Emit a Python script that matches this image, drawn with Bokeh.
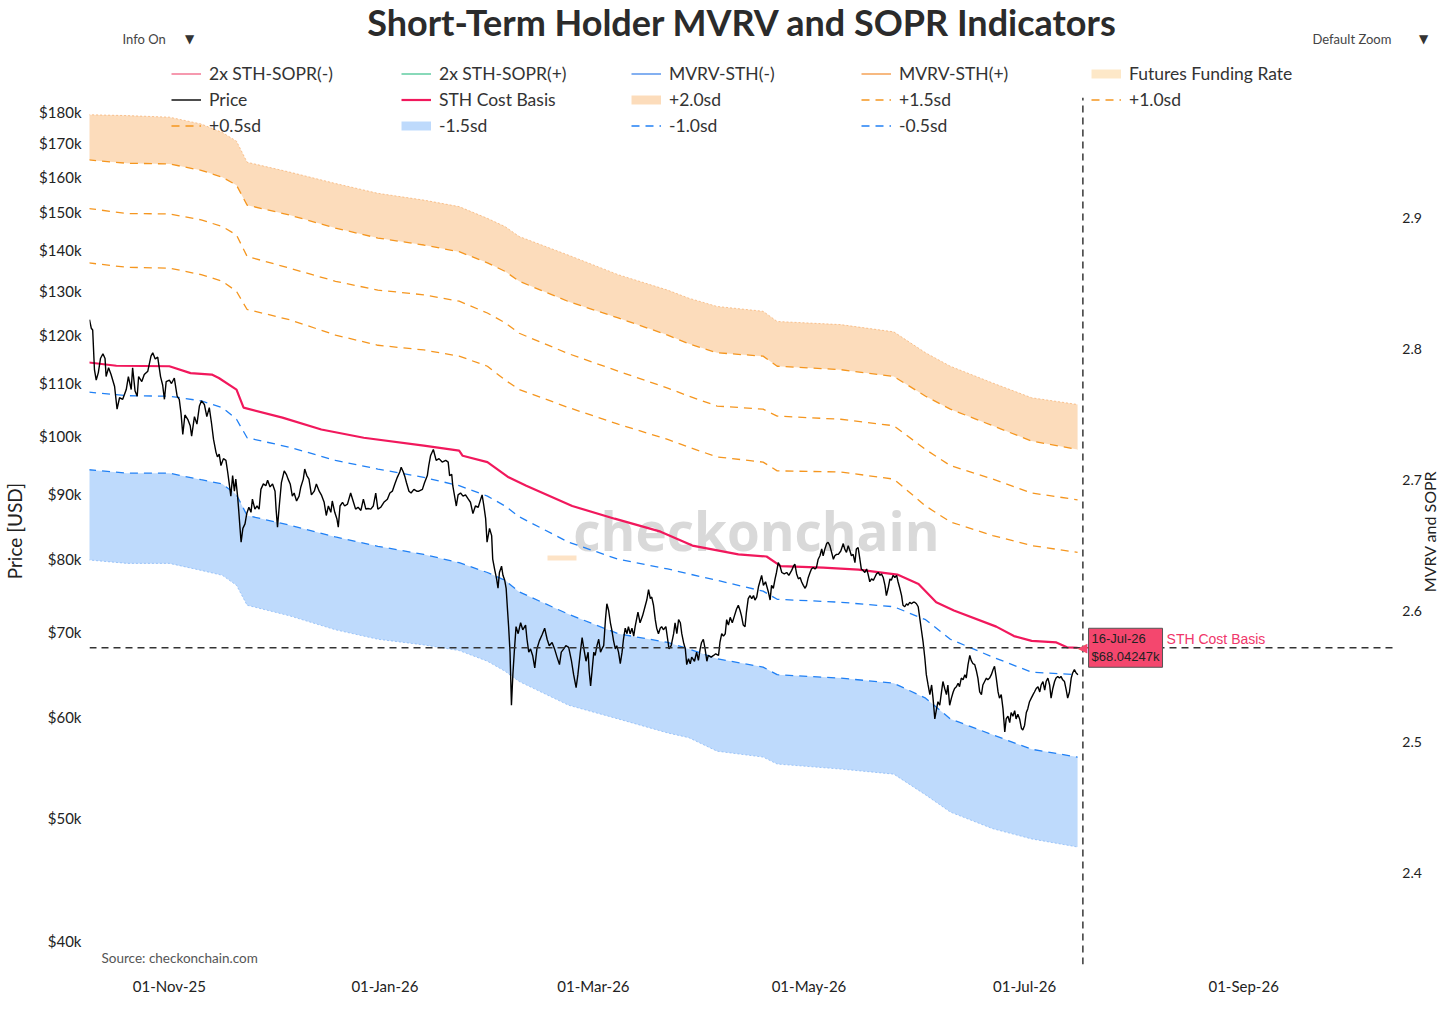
import math
import numpy as np
import pandas as pd
from bokeh.plotting import figure
from bokeh.models import (Range1d, LinearAxis, LinearScale, FixedTicker, Label, Legend,
                          LegendItem, BoxAnnotation)
from bokeh.embed import file_html
from bokeh.resources import INLINE

# ---------------- data ----------------
BASE = "2025-11-01"   # price_day offsets are days from this date

price_day = [
    -22.6,-22.1,-21.7,-21.2,-20.7,-20.1,-19.5,-18.8,-18.2,-17.9,-17.2,-16.5,-15.5,-14.8,-14.1,-13.2,-12.2,-11.6,-10.8,-10.4,
    -9.7,-9.1,-8.7,-7.8,-7.1,-6.1,-5.2,-4.7,-4.0,-3.3,-2.5,-1.9,-1.4,-0.9,0.0,0.6,1.4,2.2,2.8,3.3,
    3.8,4.4,5.2,5.9,6.3,7.1,7.8,8.5,9.1,9.9,10.6,11.3,11.9,12.5,13.2,13.6,14.1,14.6,15.3,16.0,
    16.5,16.9,17.4,17.9,18.4,18.8,19.3,19.6,20.0,20.3,20.8,21.4,21.9,22.5,23.1,23.5,24.2,24.8,25.4,25.9,
    26.6,27.3,27.8,28.5,29.2,29.9,30.2,30.6,31.1,31.7,32.5,33.1,33.6,34.2,34.8,35.3,36.0,36.7,37.2,37.9,
    38.3,38.9,39.5,40.2,41.0,41.6,42.4,43.0,43.8,44.4,45.0,45.7,46.1,46.8,47.4,47.8,48.3,49.0,49.6,50.4,
    51.3,52.1,52.7,53.4,54.2,54.9,55.6,56.2,57.0,57.7,58.4,59.0,59.8,60.7,61.7,62.4,63.1,63.8,64.5,65.2,
    65.6,66.2,66.7,67.1,67.8,68.4,69.2,70.0,70.6,71.6,72.2,73.0,73.4,73.9,74.7,
    75.5,76.3,77.2,78.2,78.9,79.3,79.9,80.2,80.8,81.2,81.7,82.4,83.1,83.8,84.6,85.2,85.9,86.6,87.4,88.1,
    88.5,89.0,89.5,89.9,90.6,91.2,91.5,92.1,92.6,93.0,93.4,94.0,94.4,94.9,95.3,95.7,96.0,96.4,96.8,97.2,
    97.6,98.1,98.7,99.4,100.0,100.8,101.2,101.7,102.2,102.8,103.4,104.0,104.7,105.5,106.2,106.9,107.5,108.3,109.0,109.7,
    110.4,110.9,111.6,112.2,113.0,113.8,114.4,115.1,115.6,116.3,116.8,117.3,117.9,118.5,118.8,119.2,119.6,120.1,120.5,121.0,
    121.5,122.0,122.4,122.9,123.4,123.8,124.3,124.8,125.2,125.7,126.2,126.6,127.1,127.6,128.1,128.5,129.0,129.5,129.9,130.4,
    130.9,131.4,131.8,132.6,133.2,133.9,134.7,135.1,135.6,136.1,136.5,137.0,137.5,137.9,138.4,138.9,139.3,139.8,140.5,141.0,
    141.4,142.0,142.7,143.1,143.6,144.1,144.6,145.0,145.5,146.0,146.4,146.9,147.4,147.8,148.6,149.2,149.7,150.2,150.6,151.1,
    151.6,152.1,152.5,153.3,154.0,154.6,155.4,155.8,156.3,156.8,157.3,157.7,158.2,158.7,159.3,159.9,160.5,161.0,161.5,161.9,
    162.4,162.9,163.3,163.8,164.3,164.8,165.3,165.7,166.2,166.7,
    167.6,168.1,168.7,169.5,170.0,170.4,170.9,171.4,171.8,172.3,172.8,173.3,174.0,174.7,175.3,176.1,176.6,177.0,177.5,178.0,
    178.5,178.9,179.4,179.9,180.3,180.8,181.3,181.7,182.2,182.7,183.1,183.6,184.1,184.6,185.0,185.5,186.0,186.4,186.9,187.4,
    187.9,188.3,188.8,189.3,190.0,190.7,191.1,191.6,192.1,192.6,193.0,193.5,194.0,194.4,194.9,195.4,195.8,196.3,196.8,197.3,
    197.7,198.2,198.7,199.2,199.6,200.1,200.6,201.1,201.5,202.0,202.5,202.9,203.4,203.9,204.3,204.8,205.3,205.8,206.2,206.7,
    207.2,207.6,208.1,208.6,209.0,209.5,210.0,210.5,210.9,211.4,211.9,212.4,212.8,213.3,213.8,214.2,214.7,215.2,215.7,216.1,
    216.6,217.1,217.5,218.0,218.5,218.9,219.4,219.9,220.3,220.8,221.3,221.8,222.2,222.7,223.2,223.6,224.1,224.6,225.1,225.5,
    226.0,226.5,226.9,227.4,227.9,228.4,228.8,229.3,229.8,230.2,230.7,231.2,231.6,232.1,232.6,233.1,233.5,234.0,234.5,234.9,
    235.4,235.9,236.4,236.8,237.3,237.8,238.2,238.7,239.2,239.6,240.1,240.6,241.1,241.5,242.0,242.5,242.9,243.4,243.9,244.4,
    244.8,245.3,245.8,246.3,246.7,247.2,247.7,248.1,248.6,249.1,249.5,250.0,250.5,250.9,251.4,251.9,252.3,252.8,253.3,253.8,
    254.2,254.7,255.2,255.6,256.1,256.6,257.1,
]
price_k = [
    123.4,121.5,121.1,112.7,110.6,112.1,115.0,116.0,115.0,111.3,113.1,111.7,109.3,104.9,107.1,106.8,108.7,111.3,108.7,113.1,
    108.4,107.4,111.3,110.3,111.7,112.4,115.5,116.2,114.9,115.3,111.3,109.6,106.8,110.3,110.6,109.9,111.0,107.4,106.8,104.1,
    100.2,103.8,103.0,101.8,99.9,103.5,102.1,105.5,106.5,105.8,103.5,105.2,102.4,99.3,97.0,96.2,96.7,94.7,95.9,95.6,
    93.6,91.8,89.6,93.0,90.4,92.4,89.6,87.5,84.5,82.4,84.5,85.2,86.8,87.8,87.0,89.1,87.5,88.0,87.5,90.7,
    91.6,91.3,92.2,91.1,91.6,90.4,87.5,84.7,88.0,91.8,93.8,93.2,92.4,91.6,89.6,90.1,88.8,89.6,91.1,92.4,
    94.1,93.0,92.4,89.8,90.4,91.6,90.4,89.8,88.6,86.5,88.0,87.0,88.8,87.0,86.0,84.7,88.0,88.6,88.0,88.3,
    90.1,88.6,87.5,87.8,87.3,89.1,87.5,87.6,87.5,88.0,90.1,87.5,87.8,88.6,89.1,90.1,90.4,91.6,92.7,93.6,
    94.4,93.6,92.7,91.8,90.4,90.1,90.7,90.4,90.4,90.7,91.8,93.0,94.7,96.4,97.5,
    95.6,95.9,95.3,95.6,95.3,93.0,93.2,91.3,89.3,88.0,89.8,90.1,89.6,89.8,89.1,88.6,86.8,88.0,87.8,89.1,
    89.8,88.0,86.0,82.4,84.5,83.4,79.9,78.3,77.1,75.8,78.0,78.9,77.6,76.9,75.8,72.8,70.7,67.5,61.3,64.8,
    67.5,70.7,69.8,71.2,70.3,70.9,69.1,67.5,67.9,67.1,65.6,67.9,68.9,69.7,70.5,69.1,68.3,68.7,67.9,66.9,
    66.0,67.5,67.9,68.3,68.1,66.4,64.8,63.3,64.8,67.5,69.3,67.9,66.4,67.5,65.2,63.5,65.2,67.5,67.1,68.3,
    69.1,67.5,67.9,68.3,71.6,73.7,72.8,71.2,70.3,68.9,67.9,68.3,67.5,66.1,67.5,69.1,70.5,69.8,70.7,69.8,
    70.5,69.5,70.7,72.6,71.2,72.1,73.5,74.2,75.6,74.4,74.6,73.5,71.6,70.5,69.8,70.5,70.7,70.3,70.7,69.1,
    67.9,68.3,69.8,71.2,69.8,71.6,71.2,69.8,68.7,67.9,66.0,66.7,66.1,66.9,66.4,67.5,66.5,67.9,68.7,69.1,
    67.9,66.4,67.1,66.9,67.1,67.3,67.1,68.7,69.8,69.5,69.8,71.6,70.9,71.9,71.2,72.1,73.0,73.5,72.8,72.1,
    70.9,70.7,72.6,74.4,74.8,74.4,74.8,74.2,74.6,76.0,
    77.6,76.2,76.7,75.3,74.2,76.2,75.8,77.1,78.0,79.4,78.9,78.0,77.8,78.0,77.6,78.3,78.9,79.2,77.8,77.1,
    77.3,76.7,76.2,75.8,76.2,77.3,78.0,78.5,78.7,78.5,78.7,79.9,80.4,81.4,80.4,81.4,82.2,82.4,81.9,80.9,
    79.9,80.4,80.6,80.6,81.1,82.2,81.4,80.9,81.9,81.1,80.4,80.6,79.4,81.4,81.6,79.9,78.5,78.3,78.0,78.5,
    77.8,76.7,77.1,76.9,77.3,77.8,78.0,77.6,77.8,77.3,76.2,74.8,75.8,77.1,76.9,77.6,77.3,77.6,76.7,75.8,
    74.8,73.5,73.3,73.7,73.5,73.9,73.7,73.9,73.9,73.7,73.3,71.6,70.3,68.7,66.7,64.8,63.6,62.5,63.6,62.1,
    59.8,60.9,61.7,61.3,62.8,64.0,63.2,62.5,63.6,61.3,62.1,62.8,63.2,63.4,63.8,63.4,64.4,64.2,64.8,64.4,
    66.0,67.1,66.5,66.1,66.0,65.2,64.4,62.8,62.5,63.6,64.0,64.4,64.2,64.4,64.8,65.4,65.8,64.4,62.8,62.1,
    62.5,60.9,58.4,59.8,60.1,59.4,60.5,60.1,60.7,59.8,60.3,59.8,58.8,58.6,59.1,60.5,60.9,61.7,62.1,62.5,
    62.8,63.2,63.4,62.8,63.6,64.0,63.0,64.0,64.4,63.6,62.1,63.2,64.0,64.4,64.6,64.4,64.6,64.2,64.0,63.0,
    62.1,62.8,64.4,65.0,65.4,65.0,64.8,
]

cb_dates = ["2025-10-09","2025-10-17","2025-11-01","2025-11-07","2025-11-13","2025-11-15","2025-11-20","2025-11-22",
            "2025-12-03","2025-12-14","2025-12-26","2026-01-12","2026-01-22","2026-01-23","2026-01-30","2026-02-05",
            "2026-02-10","2026-02-23","2026-03-07","2026-03-20","2026-03-29","2026-04-11","2026-04-19","2026-04-23",
            "2026-05-05","2026-05-15","2026-05-26","2026-06-01","2026-06-06","2026-06-11","2026-06-23","2026-06-28",
            "2026-07-03","2026-07-10","2026-07-13","2026-07-16"]
cb_k = [114.2,113.5,113.4,112.0,111.7,111.0,108.7,105.2,103.3,101.1,99.6,98.2,97.3,96.4,95.3,92.7,91.3,88.0,86.0,84.0,
        81.9,80.6,80.3,78.9,78.7,78.4,77.7,76.4,73.9,72.8,70.7,69.5,68.9,68.7,68.1,68.04247]

band_dates = ["2025-10-09","2025-10-20","2025-11-01","2025-11-10","2025-11-16","2025-11-20","2025-11-23","2025-12-05",
              "2025-12-18","2025-12-30","2026-01-12","2026-01-22","2026-01-30","2026-02-04","2026-02-08","2026-02-22",
              "2026-03-08","2026-03-22","2026-03-28","2026-04-05","2026-04-18","2026-04-22","2026-05-10","2026-05-25",
              "2026-06-03","2026-06-10","2026-06-22","2026-07-03","2026-07-16"]
sd_p20 = [179.0,178.7,178.2,176.0,173.3,170.6,164.2,161.3,158.0,155.2,153.3,151.5,148.3,146.1,143.5,138.7,133.9,130.2,
          128.3,126.4,125.3,123.0,122.3,120.7,116.2,113.4,110.0,107.1,105.8]
sd_p15 = [164.9,163.9,163.7,161.8,159.8,157.5,151.9,149.2,145.7,143.1,141.3,139.6,136.8,134.7,132.3,127.5,123.8,120.0,
          118.1,116.2,115.5,113.4,112.7,111.3,107.4,104.9,101.8,99.0,97.5]
sd_p10 = [151.0,149.6,149.5,147.9,146.1,143.9,138.4,135.5,132.3,130.2,129.1,127.6,124.9,122.7,120.4,116.0,112.4,109.0,
          107.4,105.5,104.9,103.6,103.0,101.8,97.5,94.7,92.4,90.1,89.0]
sd_p05 = [136.8,135.7,135.5,133.9,132.3,129.9,125.7,123.4,120.0,117.8,116.8,115.5,113.4,110.6,108.7,105.2,102.1,99.3,
          97.9,96.2,95.3,93.8,93.6,92.4,88.0,85.5,83.4,81.9,80.9]
sd_m05 = [108.2,107.5,107.4,106.5,105.2,103.0,99.6,97.9,95.6,94.1,92.7,91.3,89.6,88.0,86.3,82.4,79.9,78.5,
          77.8,76.9,75.4,74.3,73.9,73.3,71.6,69.1,66.9,65.1,64.8]
sd_m10 = [94.0,93.4,93.4,92.3,91.6,89.8,86.5,85.0,83.2,81.8,80.6,79.4,78.0,76.9,75.3,72.3,69.8,68.7,
          67.9,66.7,65.7,64.8,64.4,63.8,62.1,59.8,58.1,56.6,55.8]
sd_m15 = [79.8,79.3,79.3,78.3,77.6,76.2,73.5,72.1,70.3,69.1,68.4,67.7,66.4,65.2,64.0,61.3,59.8,58.3,
          57.8,56.4,55.8,55.1,54.6,54.1,52.1,50.5,49.0,48.1,47.4]

price_ticks_k = [40, 50, 60, 70, 80, 90, 100, 110, 120, 130, 140, 150, 160, 170, 180]
mvrv_ticks = [2.4, 2.5, 2.6, 2.7, 2.8, 2.9]
date_ticks = ["2025-11-01", "2026-01-01", "2026-03-01", "2026-05-01", "2026-07-01", "2026-09-01"]

# ---------------- layout constants ----------------
NOV1 = pd.Timestamp("2025-11-01")
X_START = NOV1 - pd.Timedelta(days=22.6)
X_END = NOV1 + pd.Timedelta(days=359.7)      # frame reaches the canvas' right edge
AXIS_RIGHT = NOV1 + pd.Timedelta(days=346.9) # where the right axis sits
Y_LOW, Y_HIGH = 38.30, 220.2
R_LOW, R_HIGH = 2.3305, 3.0656
SPIKE_DATE = pd.Timestamp("2026-07-17 12:00")
SPIKE_TOP = 184.6                            # top of the visible plotting area

FONT = "Lato"
ORANGE = "#f5961f"
BLUE = "#2080f5"
CB_RED = "#f1185c"

n = min(len(price_day), len(price_k))
price_t = pd.Timestamp(BASE) + pd.to_timedelta(np.array(price_day[:n]), unit="D")
price_v = np.array(price_k[:n])
cb_t = pd.to_datetime(cb_dates)
band_t = pd.to_datetime(band_dates)


def ms(ts):
    return int(pd.Timestamp(ts).value // 10**6)


p = figure(width=1440, height=1014, x_axis_type="datetime", y_axis_type="log",
           x_range=Range1d(start=X_START.to_pydatetime(), end=X_END.to_pydatetime()),
           y_range=Range1d(start=Y_LOW, end=Y_HIGH),
           output_backend="svg", toolbar_location=None,
           min_border_left=87, min_border_right=0, min_border_top=0, min_border_bottom=50)
p.outline_line_color = None
p.background_fill_color = "white"
p.border_fill_color = "white"
p.xgrid.grid_line_color = None
p.ygrid.grid_line_color = None
p.extra_y_ranges = {"mvrv": Range1d(start=R_LOW, end=R_HIGH)}
p.extra_y_scales = {"mvrv": LinearScale()}

# ---- watermark (underlay) ----
p.add_layout(Label(x=667, y=434, x_units="screen", y_units="screen", text="checkonchain",
                   text_align="center", text_baseline="alphabetic", text_font="Open Sans",
                   text_font_style="bold", text_font_size="53px", text_color="#d9d9d9", level="underlay"))
p.add_layout(BoxAnnotation(left=458, right=487, bottom=404, top=409, left_units="screen",
                           right_units="screen", bottom_units="screen", top_units="screen",
                           fill_color="#fde3c6", fill_alpha=1, line_color=None, level="underlay"))

# ---- bands ----
p.varea(x=band_t, y1=sd_p15, y2=sd_p20, fill_color="#fcdcbb", fill_alpha=1)
p.varea(x=band_t, y1=sd_m15, y2=sd_m10, fill_color="#bedafc", fill_alpha=1)
p.line(band_t, sd_p20, line_color="#f5a45a", line_alpha=0.6, line_width=1, line_dash="2 2")
p.line(band_t, sd_m15, line_color="#80b4f6", line_alpha=0.7, line_width=1, line_dash="2 2")

r_p15 = p.line(band_t, sd_p15, line_color=ORANGE, line_width=1.3, line_dash="8 6")
r_p10 = p.line(band_t, sd_p10, line_color=ORANGE, line_width=1.3, line_dash="8 6")
r_p05 = p.line(band_t, sd_p05, line_color=ORANGE, line_width=1.3, line_dash="8 6")
r_m05 = p.line(band_t, sd_m05, line_color=BLUE, line_width=1.3, line_dash="8 6")
r_m10 = p.line(band_t, sd_m10, line_color=BLUE, line_width=1.3, line_dash="8 6")

r_cb = p.line(cb_t, cb_k, line_color=CB_RED, line_width=2.2)
r_price = p.line(price_t, price_v, line_color="black", line_width=1.4)

# legend-only entries (series not visible in this view): single-point lines draw nothing
one_t = [X_START.to_pydatetime()]
r_sopr_n = p.line(one_t, [R_LOW], line_color="#f0557a", line_width=1.2, y_range_name="mvrv")
r_sopr_p = p.line(one_t, [R_LOW], line_color="#38c08a", line_width=1.2, y_range_name="mvrv")
r_mvrv_n = p.line(one_t, [R_LOW], line_color="#2f7be8", line_width=1.2, y_range_name="mvrv")
r_mvrv_p = p.line(one_t, [R_LOW], line_color="#f28a2a", line_width=1.2, y_range_name="mvrv")
r_fund = p.line(one_t, [Y_LOW], line_color="#fde8c8", line_width=9)
r_p20_sym = p.line(one_t, [Y_LOW], line_color="#fcdcbb", line_width=9)
r_m15_sym = p.line(one_t, [Y_LOW], line_color="#bedafc", line_width=9)

# ---- spike lines (hover on the last STH Cost Basis point) ----
p.segment(x0=[X_START], y0=[cb_k[-1]], x1=[AXIS_RIGHT], y1=[cb_k[-1]],
          line_color="#333333", line_width=1.6, line_dash="7 5")
p.segment(x0=[SPIKE_DATE], y0=[Y_LOW], x1=[SPIKE_DATE], y1=[SPIKE_TOP],
          line_color="#444444", line_width=1.6, line_dash="7 5")

# ---- axes ----
yl = p.left[0]
yl.ticker = FixedTicker(ticks=price_ticks_k)
yl.major_label_overrides = {t: f"${t}k" for t in price_ticks_k}
yl.axis_line_color = None
yl.major_tick_line_color = None
yl.minor_tick_line_color = None
yl.major_tick_out = 0
yl.major_label_standoff = 8
yl.major_label_text_font = FONT
yl.major_label_text_font_size = "15px"
yl.major_label_text_color = "#222222"
# trailing no-break spaces centre the visible title on the plotting area (below the legend block)
yl.axis_label = "Price [USD]" + "\u00a0" * 20
yl.axis_label_text_font = FONT
yl.axis_label_text_font_size = "19px"
yl.axis_label_text_font_style = "normal"
yl.axis_label_text_color = "#222222"
yl.axis_label_standoff = 10

xa = p.below[0]
xa.ticker = FixedTicker(ticks=[ms(d) for d in date_ticks])
xa.major_label_overrides = {ms(d): pd.Timestamp(d).strftime("%d-%b-%y") for d in date_ticks}
xa.axis_line_color = None
xa.major_tick_line_color = None
xa.minor_tick_line_color = None
xa.major_tick_out = 0
xa.major_label_standoff = 12
xa.major_label_text_font = FONT
xa.major_label_text_font_size = "15px"
xa.major_label_text_color = "#222222"

yr = LinearAxis(y_range_name="mvrv", ticker=FixedTicker(ticks=mvrv_ticks),
                fixed_location=ms(AXIS_RIGHT))
yr.axis_line_color = None
yr.major_tick_line_color = None
yr.minor_tick_line_color = None
yr.major_tick_out = 0
yr.major_tick_in = 0
yr.major_label_standoff = 7
yr.major_label_text_font = FONT
yr.major_label_text_font_size = "14px"
yr.major_label_text_color = "#222222"
p.add_layout(yr, "right")
# title of the right axis, reading bottom-to-top like the reference
p.add_layout(Label(x=1340, y=433, x_units="screen", y_units="screen", text="MVRV and SOPR",
                   angle=math.pi / 2, text_align="center", text_baseline="middle", text_font=FONT,
                   text_font_size="16px", text_color="#222222"))

# ---- legend ----
items = [
    ("2x STH-SOPR(-)", r_sopr_n), ("2x STH-SOPR(+)", r_sopr_p), ("MVRV-STH(-)", r_mvrv_n),
    ("MVRV-STH(+)", r_mvrv_p), ("Futures Funding Rate", r_fund),
    ("Price", r_price), ("STH Cost Basis", r_cb), ("+2.0sd", r_p20_sym), ("+1.5sd", r_p15), ("+1.0sd", r_p10),
    ("+0.5sd", r_p05), ("-1.5sd", r_m15_sym), ("-1.0sd", r_m10), ("-0.5sd", r_m05),
]
legend = Legend(items=[LegendItem(label=l, renderers=[r]) for l, r in items],
                location=(82, 828), orientation="horizontal", ncols=5,
                glyph_width=30, glyph_height=21, label_height=21, label_width=187,
                label_standoff=8, spacing=5, padding=0, margin=0,
                label_text_font=FONT, label_text_font_size="17.5px", label_text_color="#333333",
                border_line_color=None, background_fill_alpha=0)
p.add_layout(legend)

# ---- texts ----
def screen_label(x, y, text, size, color="#444444", align="left", bold=False, font=FONT):
    lab = Label(x=x, y=y, x_units="screen", y_units="screen", text=text, text_align=align,
                text_baseline="middle", text_font=font, text_font_size=size, text_color=color,
                text_font_style="bold" if bold else "normal")
    p.add_layout(lab)
    return lab

screen_label(653, 943, "Short-Term Holder MVRV and SOPR Indicators", "36px", "#2b2b2b", "center", True)
screen_label(33, 926, "Info On", "13px")
screen_label(100, 926, "\u25BC", "12px", "#333333", "center", font="DejaVu Sans")
screen_label(1223, 926, "Default Zoom", "13px")
screen_label(1334, 926, "\u25BC", "12px", "#333333", "center", font="DejaVu Sans")
screen_label(12, 7, "Source: checkonchain.com", "13.5px", "#555555")

# ---- hover label at the last STH Cost Basis point ----
last_t = ms(cb_t[-1])
hover_text = cb_t[-1].strftime("%d-%b-%y") + "\n" + f"${cb_k[-1]:.5f}k"
box = Label(x=last_t, y=cb_k[-1], text=hover_text, x_offset=11, text_align="left",
            text_baseline="middle", text_font="Liberation Sans", text_font_size="13px",
            text_color="#222222", background_fill_color="#f4476e", background_fill_alpha=1,
            border_line_color="#555555", border_line_width=1)
try:
    box.padding = 3
except Exception:
    pass
p.add_layout(box)
p.add_layout(Label(x=last_t, y=cb_k[-1], text="\u25C0", x_offset=0, text_align="left",
                   text_baseline="middle", text_font="DejaVu Sans", text_font_size="13px",
                   text_color="#f4476e"))
p.add_layout(Label(x=last_t, y=cb_k[-1], text="STH Cost Basis", x_offset=89, y_offset=9,
                   text_align="left", text_baseline="middle", text_font="Liberation Sans",
                   text_font_size="14px", text_color="#f0366a"))

open("out.html", "w").write(file_html(p, INLINE))
